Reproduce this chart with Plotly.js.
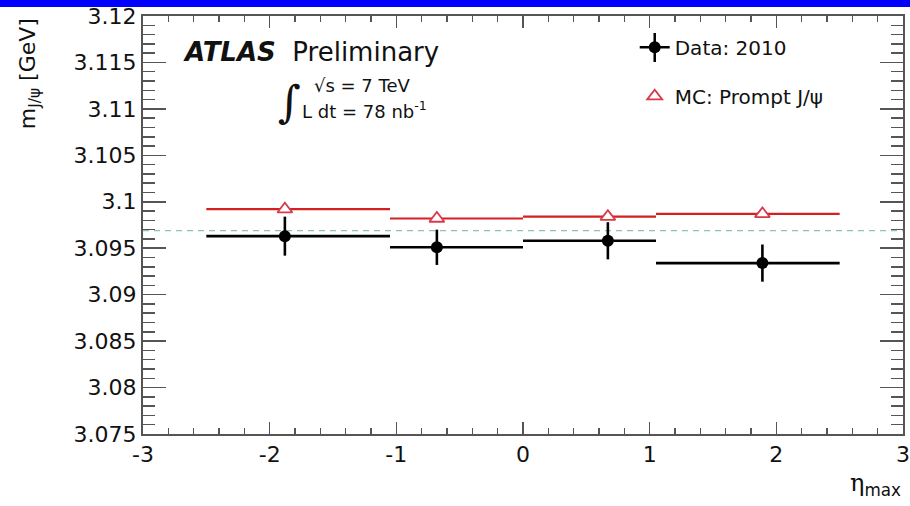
<!DOCTYPE html>
<html>
<head>
<meta charset="utf-8">
<script src="https://cdn.plot.ly/plotly-3.0.1.min.js"></script>
<style>html,body{margin:0;padding:0;background:#fff;}#chart{width:910px;height:506px;}</style>
</head>
<body>
<div id="chart"></div>
<script>
// eta bins and mean positions
const binLo = [-2.5, -1.05, 0.0, 1.05];
const binHi = [-1.05, 0.0, 1.05, 2.5];
const etaMean = [-1.88, -0.68, 0.67, 1.89];
// Data 2010
const dataMass = [3.0963, 3.0951, 3.0958, 3.0934];
const dataErr = [0.0021, 0.0019, 0.0020, 0.0020];
// MC prompt J/psi
const mcMass = [3.0992, 3.0982, 3.0984, 3.0987];
// PDG reference mass
const pdgMass = 3.0969;
const xRange = [-3, 3];
const xTickVals = [-3, -2, -1, 0, 1, 2, 3];
const xTickText = ["-3", "-2", "-1", "0", "1", "2", "3"];

const errPlus = etaMean.map((x, i) => binHi[i] - x);
const errMinus = etaMean.map((x, i) => x - binLo[i]);

const FONT = "DejaVu Sans, Liberation Sans, Arial, sans-serif";

const traces = [
  {
    x: xRange, y: [pdgMass, pdgMass], mode: 'lines', showlegend: false, hoverinfo: 'skip',
    line: {color: '#8cc4b4', width: 1.3, dash: '6px,5px'}
  },
  {
    name: 'Data: 2010', showlegend: false,
    x: etaMean, y: dataMass, mode: 'markers', type: 'scatter',
    marker: {symbol: 'circle', size: 12, color: '#000'},
    error_y: {type: 'data', array: dataErr, visible: true, color: '#000', thickness: 2.6, width: 0},
    error_x: {type: 'data', symmetric: false, array: errPlus, arrayminus: errMinus, visible: true, color: '#000', thickness: 2.6, width: 0}
  },
  {
    name: 'Data: 2010', legendgroup: 'a',
    x: [null], y: [null], mode: 'lines+markers', type: 'scatter',
    marker: {symbol: 'circle', size: 12, color: '#000'},
    line: {color: '#000', width: 2.5}
  },
  {
    name: 'MC: Prompt J/\u03c8', legendgroup: 'b',
    x: etaMean, y: mcMass, mode: 'markers', type: 'scatter',
    marker: {symbol: 'triangle-up', size: 13, color: '#fff', line: {color: '#d83a4a', width: 1.8}},
    error_x: {type: 'data', symmetric: false, array: errPlus, arrayminus: errMinus, visible: true, color: '#d42020', thickness: 2.2, width: 0}
  }
];

const axisCommon = {
  showgrid: false, zeroline: false, showline: true, linecolor: '#555', linewidth: 2,
  mirror: 'ticks', ticks: 'inside', tickcolor: '#555', tickwidth: 1.5,
  tickfont: {family: FONT, size: 22, color: '#111'}
};

const legX = 0.647;
const markPx = 143 + legX * 760 + 20;

const layout = {
  width: 910, height: 506,
  margin: {l: 143, r: 7, t: 16, b: 72},
  paper_bgcolor: '#fff', plot_bgcolor: '#fff',
  showlegend: true,
  legend: {
    x: legX, y: 0.972, xanchor: 'left', yanchor: 'top',
    bgcolor: 'rgba(0,0,0,0)', borderwidth: 0,
    font: {family: FONT, size: 20, color: '#111'},
    traceorder: 'grouped', tracegroupgap: 20
  },
  xaxis: Object.assign({}, axisCommon, {
    range: xRange, tickmode: 'array', tickvals: xTickVals, ticktext: xTickText, ticklen: 12,
    minor: {dtick: 0.2, ticklen: 6, ticks: 'inside', tickcolor: '#555', tickwidth: 1.5}
  }),
  yaxis: Object.assign({}, axisCommon, {
    range: [3.075, 3.12], dtick: 0.005, tick0: 3.075, ticklen: 23,
    minor: {dtick: 0.001, ticklen: 12, ticks: 'inside', tickcolor: '#555', tickwidth: 1.5}
  }),
  shapes: [
    {type: 'rect', xref: 'paper', yref: 'paper', x0: -143/760, x1: 1 + 7/760, y0: 1 + 9/418, y1: 1 + 16/418,
     fillcolor: '#0000ff', line: {width: 0}, layer: 'above'},
    {type: 'line', xref: 'paper', yref: 'paper', x0: (markPx - 143)/760, x1: (markPx - 143)/760,
     y0: (434 - 62)/418, y1: (434 - 33)/418, line: {color: '#000', width: 2.5}, layer: 'above'}
  ],
  annotations: [
    {xref: 'paper', yref: 'paper', x: -0.149, y: 1.0, xanchor: 'center', yanchor: 'top', textangle: -90,
     text: 'm<sub>J/\u03c8</sub> [GeV]', showarrow: false, font: {family: FONT, size: 22, color: '#111'}},
    {xref: 'paper', yref: 'paper', x: 1.0, y: -0.163, xanchor: 'right', yanchor: 'bottom',
     text: '\u03b7<sub><span style="font-family:DejaVu Sans">max</span></sub>', showarrow: false,
     font: {family: 'DejaVu Serif, serif', size: 24, color: '#111'}},
    {xref: 'paper', yref: 'paper', x: 0.05, y: 0.915, xanchor: 'left', yanchor: 'middle',
     text: '<b><i>ATLAS</i></b>  Preliminary', showarrow: false, font: {family: FONT, size: 26, color: '#111'}},
    {xref: 'paper', yref: 'paper', x: 0.175, y: 0.795, xanchor: 'left', yanchor: 'middle',
     text: '\u222b', showarrow: false, font: {family: 'DejaVu Serif, serif', size: 44, color: '#111'}},
    {xref: 'paper', yref: 'paper', x: 0.222, y: 0.833, xanchor: 'left', yanchor: 'middle',
     text: '\u221as = 7 TeV', showarrow: false, font: {family: FONT, size: 18, color: '#111'}},
    {xref: 'paper', yref: 'paper', x: 0.207, y: 0.775, xanchor: 'left', yanchor: 'middle',
     text: 'L dt = 78 nb<sup>-1</sup>', showarrow: false, font: {family: FONT, size: 18, color: '#111'}}
  ]
};

Plotly.newPlot('chart', traces, layout, {staticPlot: true, displayModeBar: false});
</script>
</body>
</html>
